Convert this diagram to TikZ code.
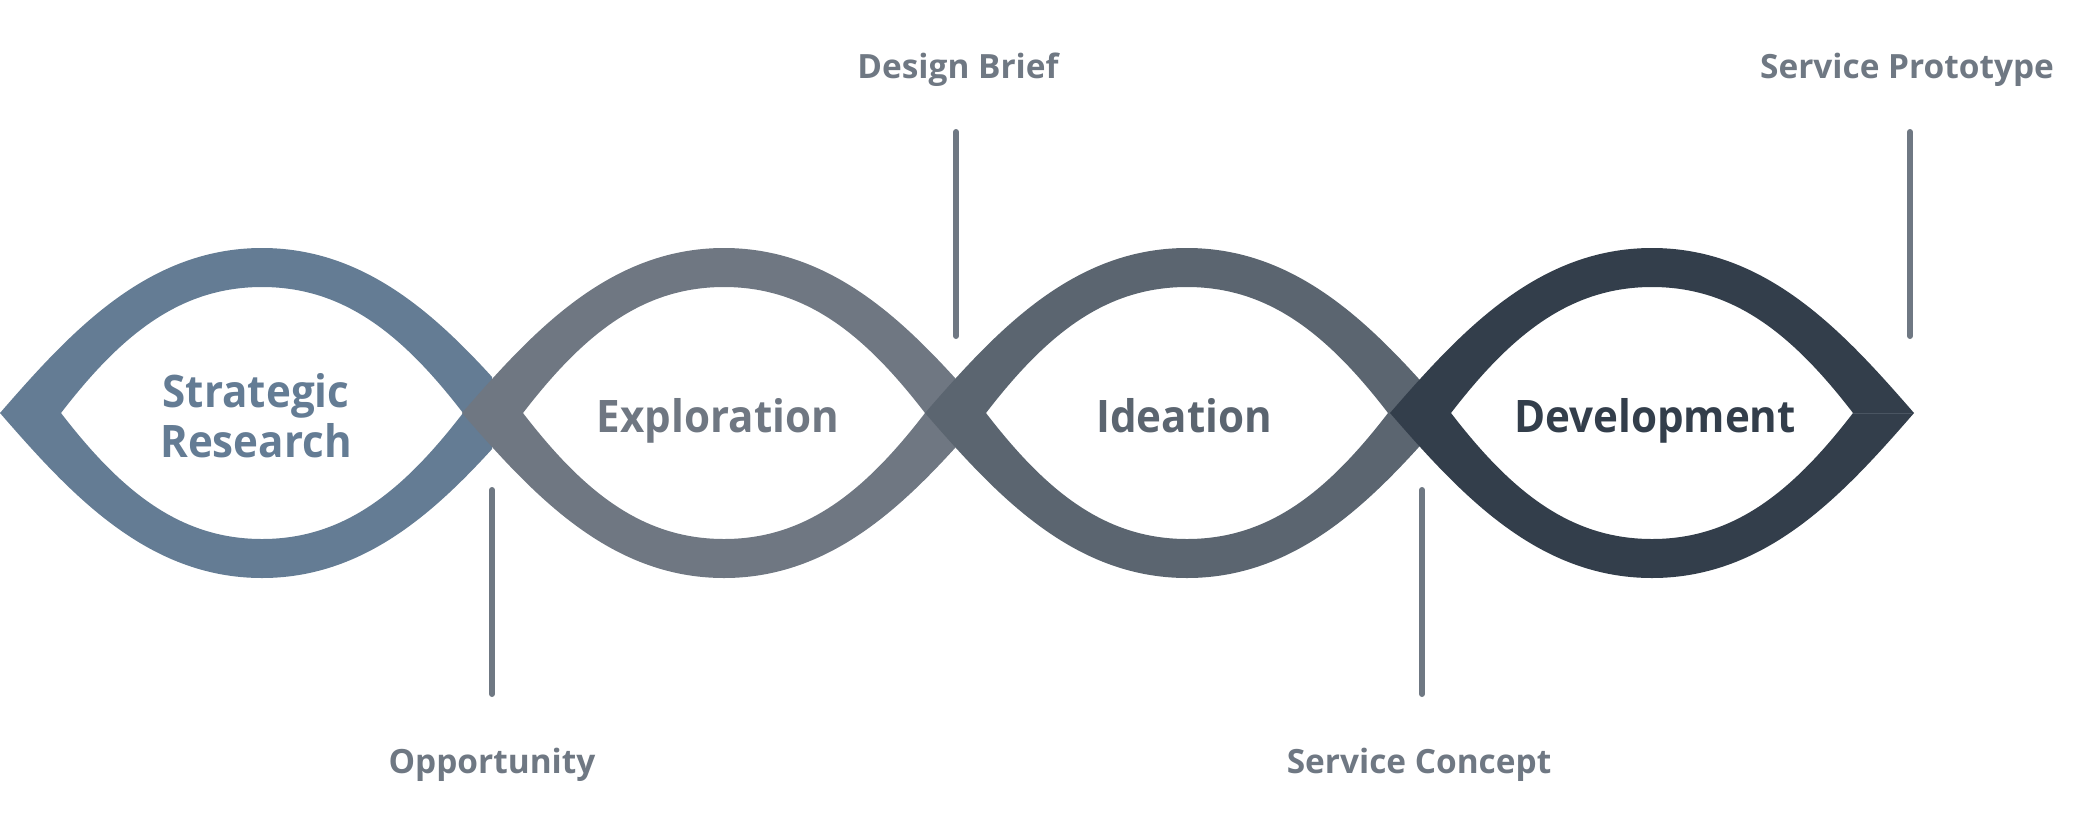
\documentclass[tikz,border=0pt]{standalone}
\usepackage{fontspec}
\setmainfont{Open Sans}
\newfontfamily\phasefont{Open Sans}[FakeStretch=0.94]
\definecolor{cA}{HTML}{647C94}
\definecolor{cB}{HTML}{6F7782}
\definecolor{cC}{HTML}{5B6570}
\definecolor{cD}{HTML}{333E4B}
\definecolor{cLab}{HTML}{6F7883}
\definecolor{cSeam}{HTML}{4A5562}
% #1 centre x, #2 colour, #3 clip right x
\newcommand{\lensband}[3]{%
  \begin{scope}
    \clip (-20,0) rectangle (#3,826);
    \fill[#2, even odd rule]
      (#1-262,413) .. controls (#1-192,332.5) and (#1-115,248) .. (#1,248)
      .. controls (#1+115,248) and (#1+192,332.5) .. (#1+262,413)
      .. controls (#1+192,493.5) and (#1+115,578) .. (#1,578)
      .. controls (#1-115,578) and (#1-192,493.5) .. cycle
      (#1-201,413) .. controls (#1-141,335) and (#1-82.3,287) .. (#1,287)
      .. controls (#1+82.3,287) and (#1+141,335) .. (#1+201,413)
      .. controls (#1+141,491) and (#1+82.3,539) .. (#1,539)
      .. controls (#1-82.3,539) and (#1-141,491) .. cycle;
  \end{scope}}
\tikzset{
  phase/.style={font=\phasefont\fontsize{22.4}{26}\selectfont\bfseries, inner sep=0pt, anchor=base},
  milestone/.style={font=\fontsize{16.7}{19}\selectfont\bfseries, text=cLab, inner sep=0pt, anchor=base},
  tick/.style={draw=cLab, line width=3pt, line cap=round}
}
\begin{document}
\begin{tikzpicture}[x=0.5pt,y=-0.5pt]
\useasboundingbox (0,0) rectangle (2098,826);
\lensband{262}{cA}{492}
\lensband{724}{cB}{956}
\lensband{1187}{cC}{1420}
\lensband{1652}{cD}{2098}
\draw[cSeam, line width=0.5pt] (1853,413) -- (1912,413);

\node[phase, text=cA] (strat1) at (256,407) {Strategic};
\node[phase, text=cA] (strat2) at (256,457) {Research};
\node[phase, text=cB] (explo) at (718,432) {Exploration};
\node[phase, text=cC] (idea) at (1184,432) {Ideation};
\node[phase, text=cD] (devel) at (1655,432) {Development};

\node[milestone] (brief) at (958,78) {Design Brief};
\node[milestone] (proto) at (1907,78) {Service Prototype};
\node[milestone] (oppo) at (492,773) {Opportunity};
\node[milestone] (concept) at (1419,773) {Service Concept};

\coordinate (b1) at (956,132); \coordinate (b2) at (956,336);
\coordinate (p1) at (1910,132); \coordinate (p2) at (1910,336);
\coordinate (o1) at (492,490); \coordinate (o2) at (492,694);
\coordinate (c1) at (1422,490); \coordinate (c2) at (1422,694);
\draw[tick] (b1) -- (b2);
\draw[tick] (p1) -- (p2);
\draw[tick] (o1) -- (o2);
\draw[tick] (c1) -- (c2);
\end{tikzpicture}
\end{document}
